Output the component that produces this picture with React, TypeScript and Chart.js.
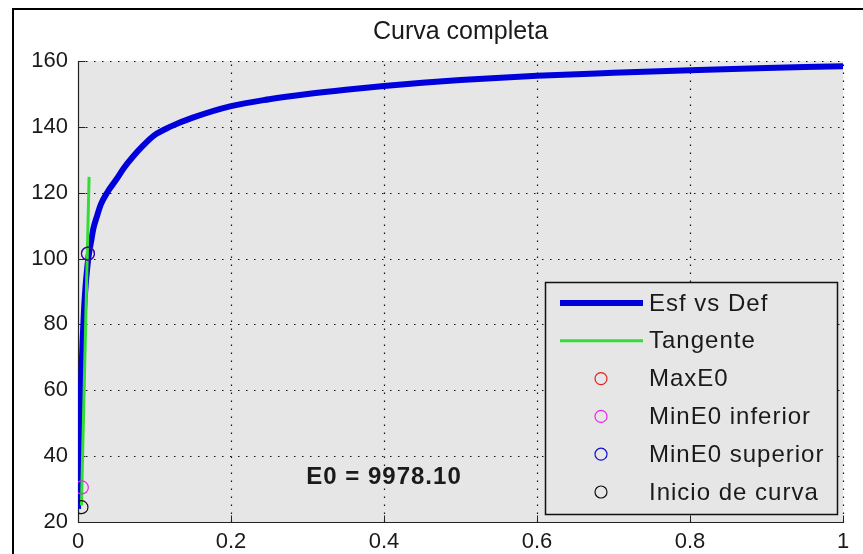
import React, { useEffect, useRef } from "react";
import { Chart, registerables } from "chart.js";

Chart.register(...registerables);

// ---------- data ----------
const chartTitle = "Curva completa";
const seriesLabels = ["Esf vs Def", "Tangente", "MaxE0", "MinE0 inferior", "MinE0 superior", "Inicio de curva"];

const strainValues = [0, 0.002, 0.004, 0.006, 0.008, 0.01, 0.012, 0.014, 0.017, 0.02, 0.025, 0.03, 0.038, 0.05, 0.06, 0.072, 0.085, 0.1, 0.12, 0.15, 0.2, 0.25, 0.3, 0.35, 0.4, 0.45, 0.5, 0.6, 0.7, 0.8, 0.9, 0.95, 1.0];
const stressValues = [24, 45, 62, 75, 85, 92, 97, 101, 105, 109, 113, 116.5, 120, 124, 127.5, 131, 134.3, 137.5, 140, 142.8, 146.3, 148.4, 150, 151.3, 152.4, 153.4, 154.2, 155.5, 156.4, 157.2, 157.9, 158.2, 158.4];

const tangentStrain = [0.0045, 0.0145];
const tangentStress = [25, 124.8];

const maxE0Point = [0.013, 101.5];
const minE0InferiorPoint = [0.005, 30.5];
const minE0SuperiorPoint = [0.013, 101.5];
const curveStartPoint = [0.0045, 24.5];

const xTickValues = [0, 0.2, 0.4, 0.6, 0.8, 1];
const xTickLabels = ["0", "0.2", "0.4", "0.6", "0.8", "1"];
const yTickValues = [20, 40, 60, 80, 100, 120, 140, 160];
const yTickLabels = ["20", "40", "60", "80", "100", "120", "140", "160"];

const e0Label = "E0 = 9978.10";
const e0Anchor = [0.4, 33.5];

// ---------- styles ----------
const FONT = "'Liberation Sans', Arial, Helvetica, sans-serif";
const TEXT = "#1a1a1a";
const PLOT_BG = "#e6e6e6";

const toXY = (xs: number[], ys: number[]) => xs.map((x, i) => ({ x, y: ys[i] }));

const matlabPlugin = {
  id: "matlabLook",
  beforeDraw(chart: any) {
    const { ctx, chartArea: a } = chart;
    ctx.save();
    ctx.fillStyle = "#ffffff";
    ctx.fillRect(0, 0, 863, 554);
    ctx.fillStyle = PLOT_BG;
    ctx.fillRect(a.left, a.top, a.right - a.left, a.bottom - a.top);
    ctx.restore();
  },
  beforeDatasetsDraw(chart: any) {
    const { ctx, chartArea: a, scales } = chart;
    const xs = scales.x;
    const ys = scales.y;
    ctx.save();
    ctx.strokeStyle = "#111";
    ctx.lineWidth = 1.2;
    ctx.setLineDash([1.5, 6.5]);
    xTickValues.forEach((v, i) => {
      if (i === 0) return;
      const px = Math.round(xs.getPixelForValue(v)) + 0.5;
      ctx.beginPath();
      ctx.moveTo(px, a.bottom);
      ctx.lineTo(px, a.top);
      ctx.stroke();
    });
    yTickValues.forEach((v, i) => {
      if (i === 0) return;
      const py = Math.round(ys.getPixelForValue(v)) + 0.5;
      ctx.beginPath();
      ctx.moveTo(a.left, py);
      ctx.lineTo(a.right, py);
      ctx.stroke();
    });
    ctx.setLineDash([]);
    ctx.strokeStyle = "#222";
    ctx.lineWidth = 1.2;
    const bx = Math.round(a.bottom) + 0.5;
    const lx = Math.round(a.left) + 0.5;
    ctx.beginPath();
    ctx.moveTo(lx, a.top);
    ctx.lineTo(lx, bx);
    ctx.lineTo(a.right + 1, bx);
    ctx.stroke();
    ctx.lineWidth = 1;
    xTickValues.forEach((v) => {
      const px = Math.round(xs.getPixelForValue(v)) + 0.5;
      ctx.beginPath();
      ctx.moveTo(px, bx);
      ctx.lineTo(px, bx - 7);
      ctx.stroke();
    });
    yTickValues.forEach((v) => {
      const py = Math.round(ys.getPixelForValue(v)) + 0.5;
      ctx.beginPath();
      ctx.moveTo(lx, py);
      ctx.lineTo(lx + 7, py);
      ctx.stroke();
    });
    ctx.restore();
  },
  afterDraw(chart: any) {
    const { ctx, chartArea: a, scales } = chart;
    ctx.save();
    (ctx as any).letterSpacing = "1px";
    ctx.font = `bold 24px ${FONT}`;
    ctx.fillStyle = TEXT;
    ctx.textAlign = "center";
    ctx.textBaseline = "middle";
    ctx.fillText(e0Label, scales.x.getPixelForValue(e0Anchor[0]), scales.y.getPixelForValue(e0Anchor[1]));

    const w = 292;
    const h = 232;
    const x0 = a.right - 298;
    const y0 = a.bottom - 240;
    ctx.fillStyle = PLOT_BG;
    ctx.fillRect(x0, y0, w, h);
    ctx.strokeStyle = "#111";
    ctx.lineWidth = 1.5;
    ctx.strokeRect(x0 + 0.5, y0 + 0.5, w, h);
    const rowH = 37.8;
    chart.data.datasets.forEach((ds: any, i: number) => {
      const cy = y0 + 21 + i * rowH;
      ctx.strokeStyle = ds.borderColor;
      ctx.lineWidth = ds.borderWidth;
      ctx.beginPath();
      if (ds.showLine) {
        ctx.moveTo(x0 + 15, cy);
        ctx.lineTo(x0 + 98, cy);
      } else {
        ctx.arc(x0 + 56, cy, 6, 0, Math.PI * 2);
      }
      ctx.stroke();
      ctx.fillStyle = TEXT;
      ctx.font = `24px ${FONT}`;
      ctx.textAlign = "left";
      ctx.textBaseline = "middle";
      ctx.fillText(ds.label, x0 + 104, cy + 1);
    });

    // figure frame (top and left edges visible, right/bottom beyond the picture)
    ctx.fillStyle = "#000000";
    ctx.fillRect(12, 8, 851, 2);
    ctx.fillRect(12, 8, 2, 546);
    ctx.restore();
  },
};

export default function App() {
  const canvasRef = useRef<HTMLCanvasElement | null>(null);

  useEffect(() => {
    if (!canvasRef.current) return;
    const markerDs = (label: string, pt: number[], color: string, order: number) => ({
      label,
      data: [{ x: pt[0], y: pt[1] }],
      showLine: false,
      borderColor: color,
      backgroundColor: "rgba(0,0,0,0)",
      borderWidth: 1.2,
      pointRadius: 6.5,
      pointStyle: "circle",
      order,
    });
    const chart = new Chart(canvasRef.current, {
      type: "scatter",
      data: {
        datasets: [
          {
            label: seriesLabels[0],
            data: toXY(strainValues, stressValues),
            showLine: true,
            borderColor: "#0000dd",
            backgroundColor: "#0000dd",
            borderWidth: 6,
            pointRadius: 0,
            cubicInterpolationMode: "monotone",
            order: 6,
          } as any,
          {
            label: seriesLabels[1],
            data: toXY(tangentStrain, tangentStress),
            showLine: true,
            borderColor: "#33dd33",
            backgroundColor: "#33dd33",
            borderWidth: 3,
            pointRadius: 0,
            order: 5,
          } as any,
          markerDs(seriesLabels[2], maxE0Point, "#dd2020", 4),
          markerDs(seriesLabels[3], minE0InferiorPoint, "#ee22ee", 3),
          markerDs(seriesLabels[4], minE0SuperiorPoint, "#1010cc", 2),
          markerDs(seriesLabels[5], curveStartPoint, "#111111", 1),
        ],
      },
      options: {
        responsive: false,
        animation: false,
        events: [],
        layout: { padding: { left: 0, right: 20, top: 0, bottom: 0 } },
        plugins: {
          legend: { display: false },
          tooltip: { enabled: false },
          title: {
            display: true,
            text: chartTitle,
            fullSize: false,
            color: TEXT,
            font: { family: FONT, size: 25, weight: "normal" },
            padding: { top: 17, bottom: 14 },
          },
        },
        scales: {
          x: {
            type: "linear",
            min: 0,
            max: 1,
            afterBuildTicks: (s: any) => {
              s.ticks = xTickValues.map((v) => ({ value: v }));
            },
            afterFit: (s: any) => {
              s.height = 32;
            },
            grid: { display: false, drawTicks: false },
            border: { display: false },
            ticks: {
              color: TEXT,
              font: { family: FONT, size: 22 },
              padding: 7,
              maxRotation: 0,
              autoSkip: false,
              callback: (_v: any, i: number) => xTickLabels[i],
            },
          },
          y: {
            type: "linear",
            min: 20,
            max: 160,
            afterBuildTicks: (s: any) => {
              s.ticks = yTickValues.map((v) => ({ value: v }));
            },
            afterFit: (s: any) => {
              s.width = 78;
            },
            grid: { display: false, drawTicks: false },
            border: { display: false },
            ticks: {
              color: TEXT,
              font: { family: FONT, size: 22 },
              padding: 10,
              autoSkip: false,
              callback: (_v: any, i: number) => yTickLabels[i],
            },
          },
        },
      } as any,
      plugins: [matlabPlugin],
    });
    return () => chart.destroy();
  }, []);

  return (
    <div style={{ position: "fixed", left: 0, top: 0, width: 863, height: 554, background: "#fff", overflow: "hidden" }}>
      <canvas ref={canvasRef} width={863} height={554} style={{ display: "block", width: 863, height: 554 }} />
    </div>
  );
}
